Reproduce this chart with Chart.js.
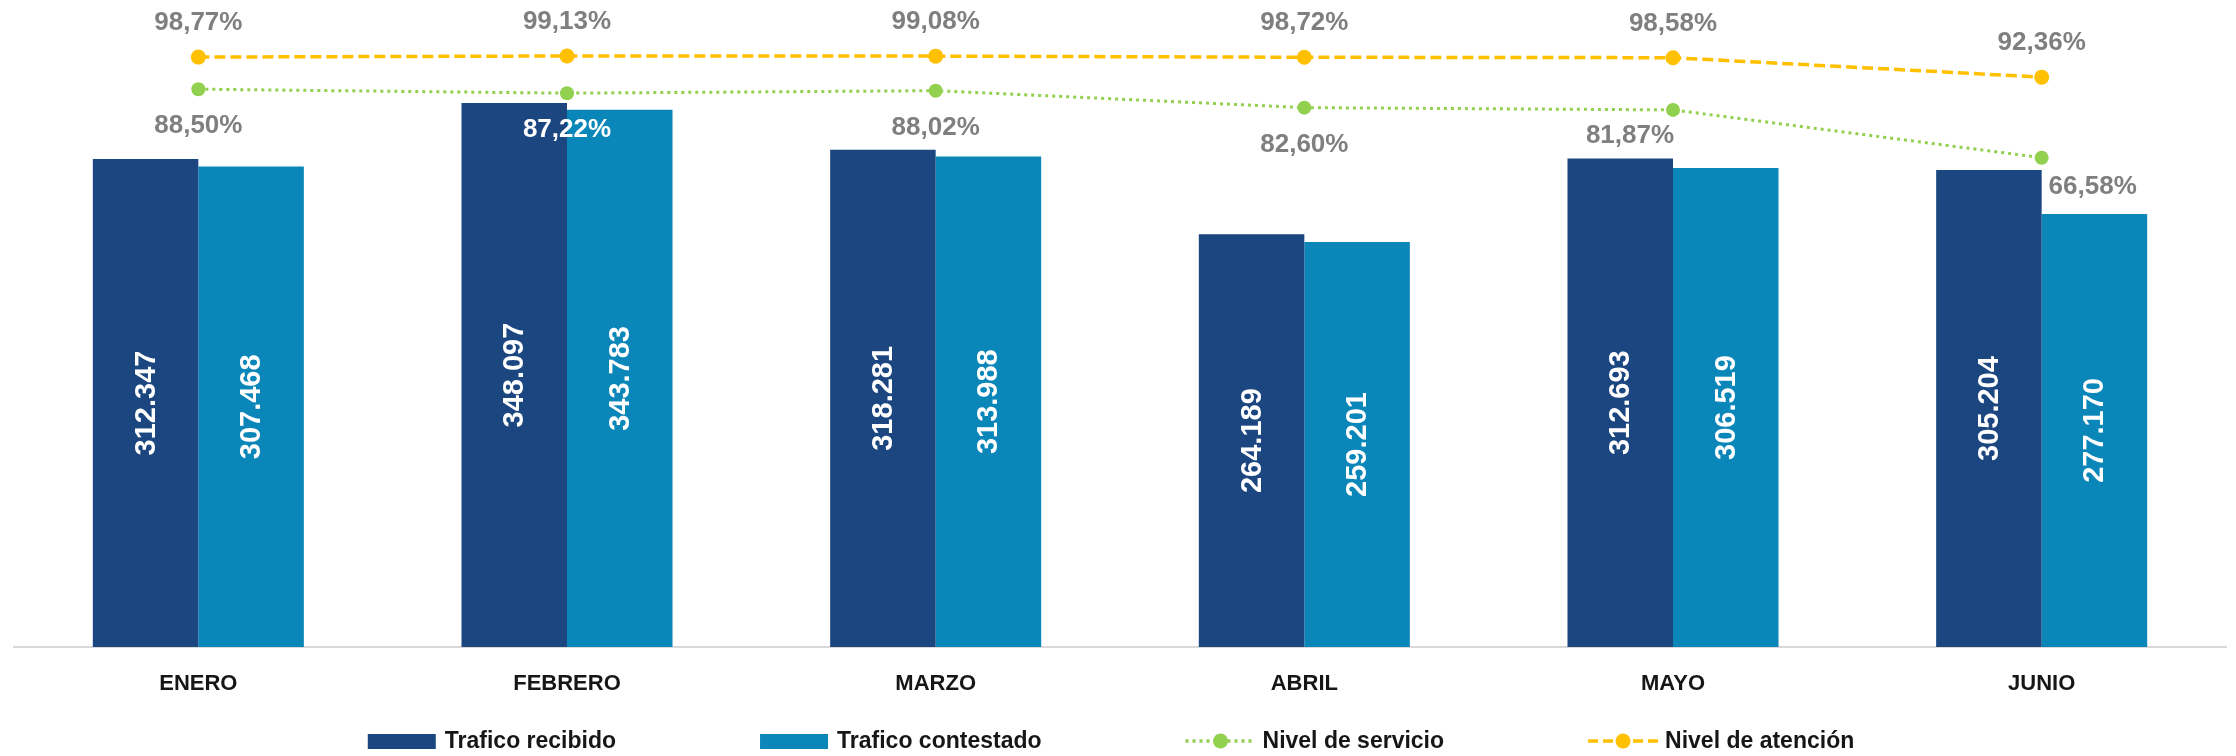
<!DOCTYPE html>
<html>
<head>
<meta charset="utf-8">
<script src="https://cdn.jsdelivr.net/npm/chart.js@4/dist/chart.umd.min.js"></script>
<style>
    html, body { margin: 0; padding: 0; background: #fff; }
    #wrap { width: 2236px; height: 756px; }
</style>
</head>
<body>
<div id="wrap"><canvas id="chart" width="2236" height="756"></canvas></div>
<script>
const meses = ['ENERO', 'FEBRERO', 'MARZO', 'ABRIL', 'MAYO', 'JUNIO'];
const traficoRecibido = [312347, 348097, 318281, 264189, 312693, 305204];
const traficoContestado = [307468, 343783, 313988, 259201, 306519, 277170];
const nivelServicio = [88.50, 87.22, 88.02, 82.60, 81.87, 66.58];
const nivelAtencion = [98.77, 99.13, 99.08, 98.72, 98.58, 92.36];

const FONT = '"Liberation Sans", Arial, sans-serif';
const C_RECIBIDO = '#1B4680';
const C_CONTESTADO = '#0A86B8';
const C_SERVICIO = '#92D050';
const C_ATENCION = '#FFC000';
const C_GRIS = '#7F7F7F';

// hand placed labels in the original (Excel) chart
const servicioNudge = { 4: { dx: -43, dy: 26 }, 5: { dx: 51, dy: 29 } };
const servicioWhite = [1];

const fmtMiles = v => v.toLocaleString('de-DE');
const fmtPct = v => v.toFixed(2).replace('.', ',') + '%';

const labelsPlugin = {
    id: 'labels',
    afterDatasetsDraw(chart) {
        const ctx = chart.ctx;
        ctx.save();
        // bar values, rotated, centred in the bar
        ctx.font = 'bold 29px ' + FONT;
        ctx.fillStyle = '#fff';
        ctx.textAlign = 'center';
        ctx.textBaseline = 'middle';
        [0, 1].forEach(di => {
            const ds = chart.data.datasets[di];
            chart.getDatasetMeta(di).data.forEach((el, i) => {
                ctx.save();
                ctx.translate(el.x, (el.y + el.base) / 2);
                ctx.rotate(-Math.PI / 2);
                ctx.fillText(fmtMiles(ds.data[i]), 0, 1);
                ctx.restore();
            });
        });
        // percentages
        ctx.font = 'bold 26px ' + FONT;
        chart.getDatasetMeta(3).data.forEach((el, i) => {
            ctx.fillStyle = C_GRIS;
            ctx.fillText(fmtPct(nivelAtencion[i]), el.x, el.y - 34);
        });
        chart.getDatasetMeta(2).data.forEach((el, i) => {
            const n = servicioNudge[i] || { dx: 0, dy: 37 };
            ctx.fillStyle = servicioWhite.includes(i) ? '#fff' : C_GRIS;
            ctx.fillText(fmtPct(nivelServicio[i]), el.x + n.dx, el.y + n.dy);
        });
        ctx.restore();
    }
};

const legendPlugin = {
    id: 'customLegend',
    afterDraw(chart) {
        const ctx = chart.ctx;
        const items = [
            { kind: 'box', color: C_RECIBIDO, text: 'Trafico recibido' },
            { kind: 'box', color: C_CONTESTADO, text: 'Trafico contestado' },
            { kind: 'line', color: C_SERVICIO, dash: [3, 4], text: 'Nivel de servicio' },
            { kind: 'line', color: C_ATENCION, dash: [10, 5], text: 'Nivel de atención' }
        ];
        const symW = 70, gap = 7, itemGap = 144, y = 741;
        ctx.save();
        ctx.font = 'bold 23px ' + FONT;
        const widths = items.map(it => ctx.measureText(it.text).width);
        const total = widths.reduce((a, w) => a + symW + gap + w, 0) + itemGap * (items.length - 1);
        let x = (chart.width - total) / 2 - 7;
        items.forEach((it, k) => {
            if (it.kind === 'box') {
                ctx.fillStyle = it.color;
                ctx.fillRect(x, y - 7, symW - 2, 15);
            } else {
                ctx.strokeStyle = it.color;
                ctx.lineWidth = 3.5;
                ctx.setLineDash(it.dash);
                ctx.beginPath();
                ctx.moveTo(x, y);
                ctx.lineTo(x + symW, y);
                ctx.stroke();
                ctx.setLineDash([]);
                ctx.fillStyle = it.color;
                ctx.beginPath();
                ctx.arc(x + symW / 2, y, 7.5, 0, Math.PI * 2);
                ctx.fill();
            }
            ctx.fillStyle = '#161616';
            ctx.textAlign = 'left';
            ctx.textBaseline = 'middle';
            ctx.fillText(it.text, x + symW + gap, y + 1);
            x += symW + gap + widths[k] + itemGap;
        });
        ctx.restore();
    }
};

new Chart(document.getElementById('chart'), {
    data: {
        labels: meses,
        datasets: [
            {
                type: 'bar', label: 'Trafico recibido', data: traficoRecibido,
                backgroundColor: C_RECIBIDO, yAxisID: 'y', order: 2,
                categoryPercentage: 0.5724, barPercentage: 1.0
            },
            {
                type: 'bar', label: 'Trafico contestado', data: traficoContestado,
                backgroundColor: C_CONTESTADO, yAxisID: 'y', order: 2,
                categoryPercentage: 0.5724, barPercentage: 1.0
            },
            {
                type: 'line', label: 'Nivel de servicio', data: nivelServicio,
                borderColor: C_SERVICIO, backgroundColor: C_SERVICIO, borderWidth: 3,
                borderDash: [3, 4], pointRadius: 7, pointBorderWidth: 0,
                pointBackgroundColor: C_SERVICIO, tension: 0, fill: false,
                yAxisID: 'y2', order: 1
            },
            {
                type: 'line', label: 'Nivel de atención', data: nivelAtencion,
                borderColor: C_ATENCION, backgroundColor: C_ATENCION, borderWidth: 3.5,
                borderDash: [11, 5], pointRadius: 7.5, pointBorderWidth: 0,
                pointBackgroundColor: C_ATENCION, tension: 0, fill: false,
                yAxisID: 'y2', order: 0
            }
        ]
    },
    options: {
        responsive: false,
        animation: false,
        devicePixelRatio: 1,
        layout: { padding: { top: 22, left: 14, right: 10, bottom: 0 } },
        plugins: {
            legend: { display: false },
            tooltip: { enabled: false }
        },
        scales: {
            x: {
                grid: { display: false },
                border: { display: true, color: '#D9D9D9', width: 2 },
                ticks: {
                    color: '#161616',
                    font: { family: FONT, size: 22, weight: 'bold' },
                    padding: 16
                },
                afterFit(scale) { scale.height = 109; }
            },
            y: { display: false, min: 0, max: 400000 },
            y2: { display: false, min: -90, max: 110, position: 'right' }
        }
    },
    plugins: [labelsPlugin, legendPlugin]
});
</script>
</body>
</html>
